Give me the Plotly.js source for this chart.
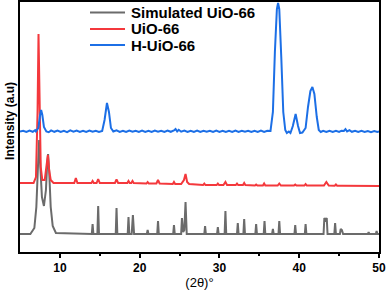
<!DOCTYPE html>
<html><head><meta charset="utf-8">
<script src="https://cdn.plot.ly/plotly-3.0.1.min.js"></script>
<style>html,body{margin:0;padding:0;background:#fff}#chart{width:387px;height:290px}</style>
</head><body><div id="chart"></div>
<script>
// Simulated UiO-66 (x = 2theta, y = intensity, arbitrary offset units)
const simX = [5,6.3,6.8,7.05,7.25,7.4,7.55,7.75,8.0,8.25,8.42,8.52,8.65,8.85,9.1,9.5,
 14.0,14.1,14.2, 14.7,14.8,14.9, 17.0,17.1,17.2, 18.5,18.6,18.7, 19.0,19.15,19.3,
 20.9,21.0,21.1, 22.2,22.3,22.4, 24.2,24.3,24.4, 25.2,25.3,25.45,25.6,25.75,25.9,
 28.1,28.2,28.3, 29.7,29.8,29.9, 30.65,30.75,30.85, 32.2,32.3,32.4, 33.0,33.1,33.2,
 34.5,34.6,34.7, 35.55,35.65,35.75, 36.6,36.7,36.8, 37.4,37.5,37.6, 39.4,39.5,39.6,
 40.7,40.8,40.9, 43.05,43.15,43.3,43.45,43.55, 44.4,44.5,44.6, 45.1,45.2,45.35,45.5,
 48.6,48.7,48.8, 49.6,49.7,49.8,50];
const simY = [18,18,24,45,85,112,85,55,46,62,90,98,82,45,26,19,
 18,28,18, 18,46,18, 18,44,18, 18,35,18, 18,37,18,
 18,22,18, 18,31,18, 18,27,18, 18,34,20,22,50,18,
 18,26,18, 18,25,18, 18,41,18, 18,29,18, 18,33,18,
 18,28,18, 18,31,18, 18,23,18, 18,31,18, 18,27,18,
 18,28,18, 18,34,32,34,18, 18,29,18, 18,23,22,18,
 18,20,18, 18,21,18,18];

// UiO-66
const uioX = [5,6.7,7.0,7.2,7.32,7.45,7.6,7.8,8.1,8.3,8.5,8.65,8.85,9.2,
 11.8,12.0,12.2, 13.95,14.1,14.25, 14.6,14.8,15.0, 16.9,17.1,17.3, 18.45,18.6,18.75,
 18.95,19.1,19.25, 20.85,21.0,21.15, 22.1,22.3,22.5, 24.15,24.3,24.45,
 25.2,25.4,25.55,25.75,25.95,26.2, 27.95,28.1,28.25, 29.65,29.8,29.95, 30.5,30.75,30.95,
 32.05,32.2,32.35, 32.95,33.1,33.25, 34.45,34.6,34.75, 35.45,35.6,35.75, 37.3,37.5,37.7,
 39.35,39.5,39.65, 40.65,40.8,40.95, 43.1,43.4,43.7, 44.45,44.6,44.75, 45.15,45.3,45.45, 50];
const uioY = [69,69,75,140,218,150,85,72,72,85,97,82,72,69,
 69,74,69, 69,71,69, 69,73,69, 69,72.5,69, 69,71,69,
 69,71,69, 68.5,70,68.5, 68.5,72,68.5, 68,70,68,
 68,70,72,78,70,68, 67,68.5,67, 67,68.5,67, 67,70,67,
 67,68.5,67, 67,69,67, 66.5,67.5,66.5, 66.5,68.5,66.5, 66.5,68.5,66.5,
 66.5,67.5,66.5, 66.5,68,66.5, 66.5,70,66.5, 66.3,67.5,66.3, 66.3,67,66.3, 66];

// H-UiO-66
const hX = [5.0,5.4,5.8,6.2,6.6,6.9, 7.0,7.3,7.5,7.65,7.8,8.0,8.3,
 8.6,8.9,9.3,9.7,10.1,10.5,10.9,11.3,11.7,12.1,12.5,12.9,13.3,13.7,14.1,14.5,14.9,
 15.3,15.6,15.9,16.15,16.4,16.7,
 17.1,17.5,17.9,18.3,18.7,19.1,19.5,19.9,20.3,20.7,21.1,21.5,21.9,22.3,22.7,23.1,23.5,23.9,
 24.3,24.5,24.7,24.9,25.2,25.6,26.0,26.4,26.8,27.2,27.6,28.0,28.4,28.8,29.2,29.6,30.0,30.4,
 30.8,31.2,31.6,32.0,32.4,32.8,33.2,33.6,34.0,34.4,34.8,35.2,35.6,36.0,
 36.4,36.7,36.95,37.2,37.35,37.5,37.75,38.0,38.25,38.45,38.7,
 38.9,39.2,39.55,39.85,40.1,40.4,
 40.8,41.1,41.4,41.65,41.9,42.2,42.45,42.7,
 43.0,43.4,43.8,44.2,44.6,45.0,45.3,45.6,45.8,46.0,46.3,46.6,47.0,47.4,47.8,48.2,48.6,49.0,49.4,49.8,50];
const hY = [120.5,121.2,120,121.4,120.2,121.8, 120.5,124,136,142,137,125,120.5,
 119.8,121.6,120.2,121.5,120,121.2,119.9,121.6,120.3,121.4,120,121.3,120.1,121.5,120.2,121.2,120,
 121,132,149,140,124,120.5,
 121.6,120.1,121.3,120,121.5,120.2,121.2,120,121.4,120.1,121.2,120,121.4,120.2,121.3,120,121.5,120.2,
 121.5,123,120.5,122.2,120.3,121.4,120,121.3,120.1,121.4,120,121.2,120.2,121.3,120,121.4,120.1,121.3,
 120,121.2,120.1,121.4,120,121.2,120.2,121.3,120,121.2,120.1,121.4,120,121.2,
 121,140,200,243,249,243,195,140,122,119,120.5,
 119,126,138,126,119,119.5,
 124,145,161,165,158,135,122,120,
 121.2,120,121.3,120.1,121.2,120,121.3,121,122.8,120.5,121.8,120.2,121.2,120,121.1,120,121,119.9,120.9,120,120.5];

const names = ['Simulated UiO-66','UiO-66','H-UiO-66'];
const colors = ['#6b6b6b','#f4383c','#1c6fe6'];
const xTicks = [10,20,30,40,50];
const xMinor = [15,25,35,45];
const xTitle = '(2θ)°';
const yTitle = 'Intensity (a.u)';

const traces = [[simX,simY],[uioX,uioY],[hX,hY]].map((d,i)=>({
  x:d[0], y:d[1], type:'scatter', mode:'lines', name:names[i],
  line:{color:colors[i], width:2}, showlegend:false
}));

// legend drawn as paper-anchored shapes + text
const legRows = [0.958, 0.892, 0.828];
const shapes = names.map((n,i)=>({type:'line', xref:'paper', yref:'paper',
  x0:0.195, x1:0.2925, y0:legRows[i], y1:legRows[i], line:{color:colors[i], width:2}}));
const annotations = names.map((n,i)=>({xref:'paper', yref:'paper', x:0.304, y:legRows[i],
  xanchor:'left', yanchor:'middle', showarrow:false, text:n,
  font:{size:15, weight:'bold', color:'#000'}}));
annotations.push({xref:'paper', yref:'paper', x:-0.028, y:0.524, xanchor:'center', yanchor:'middle',
  textangle:-90, showarrow:false, text:yTitle, font:{size:12, weight:'bold', color:'#000'}});

const layout = {
  width:387, height:290,
  margin:{l:20,r:8,t:2,b:38},
  paper_bgcolor:'#fff', plot_bgcolor:'#fff',
  font:{family:'Liberation Sans, Arial, sans-serif', color:'#000'},
  showlegend:false, shapes:shapes, annotations:annotations,
  xaxis:{range:[5,50], tickvals:xTicks, ticktext:xTicks.map(String),
    showgrid:false, zeroline:false, showline:true, linecolor:'#000', linewidth:2, mirror:true,
    ticks:'outside', ticklen:4, tickwidth:2, tickcolor:'#000',
    minor:{tickvals:xMinor, ticks:'outside', ticklen:2, tickwidth:2, tickcolor:'#000', showgrid:false},
    tickfont:{size:12, weight:'bold', color:'#000'},
    title:{text:xTitle, font:{size:13, color:'#000'}, standoff:6}},
  yaxis:{range:[0,250], showticklabels:false, ticks:'', showgrid:false, zeroline:false,
    showline:true, linecolor:'#000', linewidth:2, mirror:true}
};
Plotly.newPlot('chart', traces, layout, {displayModeBar:false, staticPlot:true});
</script></body></html>
